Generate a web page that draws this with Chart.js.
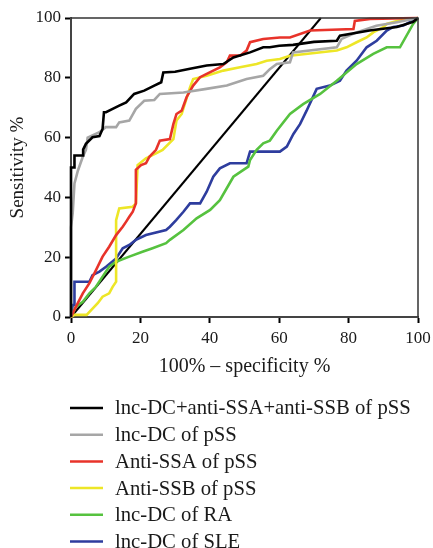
<!DOCTYPE html>
<html>
<head>
<meta charset="utf-8">
<script src="https://cdn.jsdelivr.net/npm/chart.js@4/dist/chart.umd.min.js"></script>
<style>
  html, body { margin: 0; padding: 0; background: #fff; }
  #wrap { width: 433px; height: 548px; }
</style>
</head>
<body>
<div id="wrap"><canvas id="c" width="433" height="548"></canvas></div>
<script>
// ---- Data (x = 100% - specificity %, y = sensitivity %) ----
const seriesLabels = [
  "lnc-DC+anti-SSA+anti-SSB of pSS",
  "lnc-DC of pSS",
  "Anti-SSA of pSS",
  "Anti-SSB of pSS",
  "lnc-DC of RA",
  "lnc-DC of SLE"
];

const xCombined = [0,0,1,1,3.5,3.5,4.3,6.2,8.2,9.1,9.5,10.1,12,13.9,15.9,18.2,21.1,24,26,26.6,30,34.3,39.1,43.9,46.8,51.6,55.4,57.3,60,64,70,76.6,77.5,86,93.9,98.6,100];
const yCombined = [0,50,50,54,54,56,57.9,60.1,60.5,62.9,68.5,68.5,69.6,70.7,71.8,74.6,75.7,77.4,78.5,81.8,82,83,84.1,84.6,86.8,88.5,90.2,90.2,90.7,91,92,92.4,94.1,95.8,97,98.7,100];

const xLncPSS = [0,0,0.5,1,2,3.4,4.3,4.8,8.2,10,13,13.9,16.8,18.7,21.1,24,25.6,32.4,39,44.9,50.6,55.4,57.3,59.3,63.1,64,76.6,78,82.3,88,93.9,100];
const yLncPSS = [0,30,34.8,44.7,49,53.6,55.9,60,61.8,63.5,63.5,65.1,65.7,69.6,72.3,72.6,74.6,75.1,76.3,77.4,79.6,80.7,82.9,84.6,85.2,88.5,90.2,93,95.2,97.4,98.6,100];

const xSSA = [0,1.4,3.4,5.3,7.2,9.1,11,13,14.9,15.9,16.8,17.8,18.7,18.7,20.2,21.6,22.6,24.5,25.6,28.5,29.5,30.4,31.9,33.3,35.2,37.2,39.1,42.9,44.9,45.8,48.7,50.6,51.6,55.4,60.2,63.1,68.9,81.4,81.8,86.2,100];
const ySSA = [0,3.4,7.9,11.3,15.7,20.2,23.5,27.4,30.2,31.9,33.5,35.2,38,49.2,50.8,51.4,53.6,55.9,59,59.5,64.5,67.9,69,73.5,77.4,80.2,81.3,83.5,85.2,87.4,87.4,89.1,91.9,93,93.5,93.5,95.8,96.3,99,99.7,100];

const xSSB = [0,1,4.5,5.8,7.7,9.1,11,12,13,13,13.9,17.8,18.7,19.2,21.6,24.5,26.4,29.5,30.4,31.9,34.3,35.2,39.1,43.9,48.7,53.5,56.4,60.2,63.1,76.6,79.4,82.3,85.2,87.1,90,91,93.9,100];
const ySSB = [0,0.7,0.7,2.3,4.6,6.8,7.9,10.1,11.8,32.4,36.3,36.9,38,50.8,53.1,54.7,55.9,59.5,65.7,67.9,76.8,79.6,80.7,82.4,83.5,84.6,85.7,86.3,87.4,89.1,90.2,91.9,93.5,95.2,96.9,98,99,100];

const xRA = [0,1.4,3.4,5.3,7.2,9.1,11,13,16.8,20.6,23.5,27.4,28.5,32.4,36.2,40.1,42.9,46.8,49.7,51.1,51.6,53.5,55.4,57.3,59.3,63.1,66.9,71.8,76.6,82.3,87.1,91,94.8,98.6,100];
const yRA = [0,3.4,5.1,7.9,10.1,13.5,16.8,18.5,20.2,21.8,23,24.7,25.8,29.1,33,35.8,39.1,46.9,49.2,50.3,52.5,55.9,58.1,59,62.3,67.9,71.2,74.6,79,84.6,88,90.2,90.2,98,100];

const xSLE = [0,0.5,1,1,5.3,6.2,8.2,10.1,13,14.9,16.8,18.7,21.6,27.4,28.5,30.3,32.4,34.3,37.2,39.1,41,42.9,45.8,50.6,51.6,60.2,62.2,64.1,66,67.9,70.8,74.6,77.5,79.4,82.3,85.2,88.1,91,92.9,95.8,100];
const ySLE = [0,4,4,11.8,11.8,14,15.2,16.8,19.6,23,24.1,25.8,27.4,29.1,30.2,32.4,35.2,38,38,41.9,46.9,49.7,51.4,51.4,55.3,55.3,57,61.2,64.5,69,76.3,77.4,79,82.4,85.7,90.2,92.4,95.8,97,97.5,100];

// Reference straight line (drawn in the reference from the origin to the top edge)
const xRef = [0,72];
const yRef = [0,100];

const xTicks = [0,20,40,60,80,100];
const yTicks = [0,20,40,60,80,100];

const seriesColors = ["#000000","#a6a6a6","#e8332a","#ede627","#56c23f","#2e3d9e"];

function pts(xs, ys) { return xs.map((x, i) => ({x: x, y: ys[i]})); }

const seriesData = [
  pts(xCombined, yCombined),
  pts(xLncPSS, yLncPSS),
  pts(xSSA, ySSA),
  pts(xSSB, ySSB),
  pts(xRA, yRA),
  pts(xSLE, ySLE)
];

const datasets = seriesData.map((d, i) => ({
  label: seriesLabels[i],
  data: d,
  borderColor: seriesColors[i],
  backgroundColor: seriesColors[i],
  borderWidth: 2.6,
  pointRadius: 0,
  tension: 0,
  fill: false,
  clip: 4
}));
datasets.push({
  label: "",
  data: pts(xRef, yRef),
  borderColor: "#000000",
  borderWidth: 2,
  pointRadius: 0,
  fill: false,
  clip: 4
});

const FONT = "'Liberation Serif', 'Times New Roman', serif";

// Frame on top/right edges + vertical legend below the plot
const framePlugin = {
  id: 'frame',
  afterDatasetsDraw(chart) {
    const {ctx, chartArea: a} = chart;
    ctx.save();
    ctx.strokeStyle = '#333';
    ctx.lineWidth = 1.5;
    ctx.beginPath();
    ctx.moveTo(a.left, a.top);
    ctx.lineTo(a.right, a.top);
    ctx.lineTo(a.right, a.bottom);
    ctx.stroke();
    ctx.restore();
  },
  afterDraw(chart) {
    const {ctx} = chart;
    const items = chart.data.datasets.filter(d => d.label);
    ctx.save();
    ctx.font = "20.7px " + FONT;
    ctx.textBaseline = 'middle';
    ctx.textAlign = 'left';
    items.forEach((d, i) => {
      const y = 408 + i * 26.7;
      ctx.strokeStyle = d.borderColor;
      ctx.lineWidth = 2.5;
      ctx.beginPath();
      ctx.moveTo(70, y);
      ctx.lineTo(103, y);
      ctx.stroke();
      ctx.fillStyle = '#1a1a1a';
      ctx.fillText(d.label, 115, y + 1);
    });
    ctx.restore();
  }
};

new Chart(document.getElementById('c'), {
  type: 'line',
  data: { datasets: datasets },
  plugins: [framePlugin],
  options: {
    responsive: false,
    animation: false,
    devicePixelRatio: 1,
    layout: { padding: { left: 0, right: 15, top: 18, bottom: 151 } },
    plugins: { legend: { display: false }, tooltip: { enabled: false } },
    scales: {
      x: {
        type: 'linear',
        min: 0, max: 100,
        afterFit(scale) { scale.height = 80; scale.paddingLeft = 0; scale.paddingRight = 0; },
        afterBuildTicks(scale) { scale.ticks = xTicks.map(v => ({value: v})); },
        border: { display: true, color: '#444', width: 2 },
        grid: { drawOnChartArea: false, drawTicks: true, tickLength: 6, tickWidth: 2, tickColor: '#000' },
        ticks: { color: '#1a1a1a', font: { family: FONT, size: 17 }, padding: 5, maxRotation: 0 },
        title: { display: true, text: '100% – specificity %', color: '#1a1a1a', font: { family: FONT, size: 20 }, padding: { top: 4, bottom: 18 } }
      },
      y: {
        type: 'linear',
        min: 0, max: 100,
        afterFit(scale) { scale.width = 71; scale.paddingTop = 0; scale.paddingBottom = 0; },
        afterBuildTicks(scale) { scale.ticks = yTicks.map(v => ({value: v})); },
        border: { display: true, color: '#444', width: 2 },
        grid: { drawOnChartArea: false, drawTicks: true, tickLength: 6, tickWidth: 2, tickColor: '#000' },
        ticks: { color: '#1a1a1a', font: { family: FONT, size: 17 }, padding: 4 },
        title: { display: true, text: 'Sensitivity %', color: '#1a1a1a', font: { family: FONT, size: 19 }, padding: { top: 7, bottom: 4 } }
      }
    }
  }
});
</script>
</body>
</html>
